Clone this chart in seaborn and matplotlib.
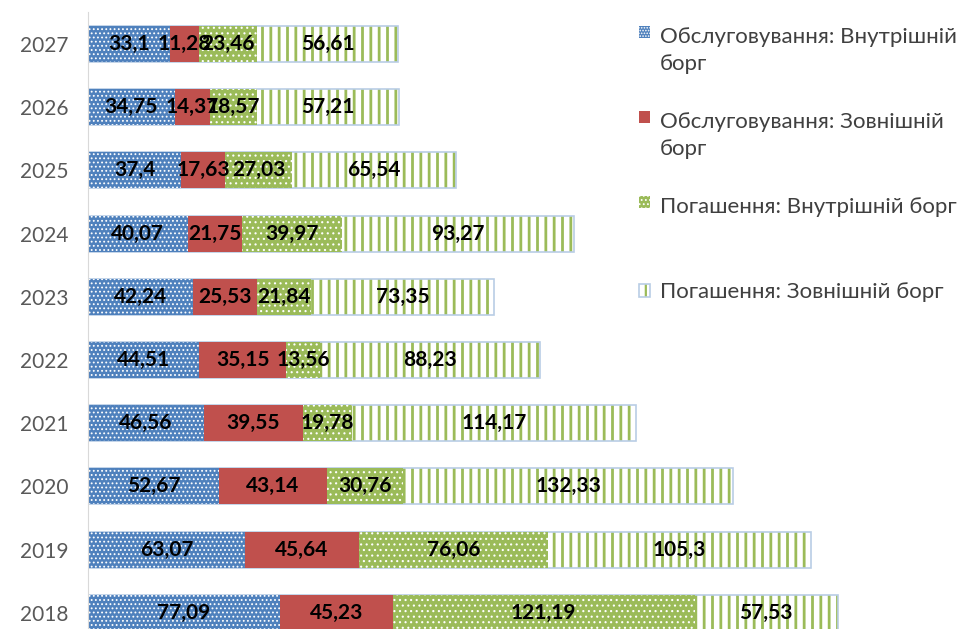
import numpy as np
import matplotlib
matplotlib.use("Agg")
import matplotlib.pyplot as plt
import matplotlib.patches as mpatches
from matplotlib.legend_handler import HandlerPatch, HandlerTuple
import seaborn as sns

# data (2018 .. 2027)
years = ["2018", "2019", "2020", "2021", "2022", "2023", "2024", "2025", "2026", "2027"]
serv_internal = [77.09, 63.07, 52.67, 46.56, 44.51, 42.24, 40.07, 37.4, 34.75, 33.1]
serv_external = [45.23, 45.64, 43.14, 39.55, 35.15, 25.53, 21.75, 17.63, 14.37, 11.28]
repay_internal = [121.19, 76.06, 30.76, 19.78, 13.56, 21.84, 39.97, 27.03, 18.57, 23.46]
repay_external = [57.53, 105.3, 132.33, 114.17, 88.23, 73.35, 93.27, 65.54, 57.21, 56.61]
series_names = ["Обслуговування: Внутрішній\nборг",
                "Обслуговування: Зовнішній\nборг",
                "Погашення: Внутрішній борг\n ",
                "Погашення: Зовнішній борг"]

sns.set_style("white")
plt.rcParams["font.family"] = ["Lato", "DejaVu Sans"]
plt.rcParams["hatch.linewidth"] = 0.8

BLUE = "#4F81BD"
RED = "#C0504D"
GREEN = "#9BBB59"
BORDER = "#B9CDE5"

order = years[::-1]
s1 = np.array(serv_internal)
s2 = np.array(serv_external)
s3 = np.array(repay_internal)
s4 = np.array(repay_external)
c1 = s1
c2 = c1 + s2
c3 = c2 + s3
c4 = c3 + s4


def thick_hatch(patches, lw):
    for p in patches:
        if hasattr(p, "set_hatch_linewidth"):
            p.set_hatch_linewidth(lw)


fig = plt.figure(figsize=(9.58, 6.29), dpi=100)
ax = fig.add_axes([0.0919, -0.0245, 0.832, 1.0048])

w = 0.57
# overlay cumulative bars, longest first
sns.barplot(x=c4, y=years, order=order, orient="y", color="white", saturation=1,
            edgecolor=GREEN, hatch="||", linewidth=0, width=w, ax=ax)
thick_hatch(ax.patches, 2.0)
sns.barplot(x=c4, y=years, order=order, orient="y", fill=False, saturation=1,
            edgecolor=BORDER, linewidth=1.2, width=w, ax=ax)
sns.barplot(x=c3, y=years, order=order, orient="y", color=GREEN, saturation=1,
            edgecolor="white", hatch="...", linewidth=0, width=w, ax=ax)
sns.barplot(x=c2, y=years, order=order, orient="y", color=RED, saturation=1,
            linewidth=0, width=w, ax=ax)
sns.barplot(x=c1, y=years, order=order, orient="y", color=BLUE, saturation=1,
            edgecolor="white", hatch="....", linewidth=0, width=w, ax=ax)

# value labels in segment centres
for vals, ends in [(s1, c1), (s2, c2), (s3, c3), (s4, c4)]:
    for k, yr in enumerate(years):
        pos = order.index(yr)
        ax.text(ends[k] - vals[k] / 2, pos, str(vals[k]).replace(".", ","),
                ha="center", va="center", fontsize=15, fontweight="bold", color="black")

ax.set_xlim(0, 320)
ax.set_xlabel("")
ax.set_ylabel("")
ax.set_xticks([])
ax.tick_params(axis="y", length=0, pad=14, labelsize=15, labelcolor="#595959")
for sp in ["top", "right", "bottom"]:
    ax.spines[sp].set_visible(False)
ax.spines["left"].set_color("#D9D9D9")


class ShiftedPatch(HandlerPatch):
    def __init__(self, shift, **kw):
        super().__init__(**kw)
        self.shift = shift

    def create_artists(self, legend, orig_handle, xdescent, ydescent, width, height, fontsize, trans):
        return super().create_artists(legend, orig_handle, xdescent, ydescent - self.shift,
                                      width, height, fontsize, trans)


h1 = mpatches.Patch(facecolor=BLUE, edgecolor="white", hatch="......", linewidth=0)
h2 = mpatches.Patch(facecolor=RED, linewidth=0)
h3 = mpatches.Patch(facecolor=GREEN, edgecolor="white", hatch="....", linewidth=0)
h4a = mpatches.Patch(facecolor="white", edgecolor=GREEN, hatch="||", linewidth=0)
h4b = mpatches.Patch(fill=False, edgecolor=BORDER, linewidth=1.2)
fs = 16
line_shift = 13.3
leg = fig.legend([h1, h2, h3, (h4a, h4b)], series_names, loc="upper left",
                 bbox_to_anchor=(0.6555, 0.975), frameon=False, fontsize=fs,
                 borderpad=0, handlelength=0.5, handleheight=0.5, handletextpad=0.42,
                 labelspacing=1.72, labelcolor="#404040",
                 handler_map={h1: ShiftedPatch(line_shift), h2: ShiftedPatch(line_shift),
                              h3: ShiftedPatch(line_shift),
                              tuple: HandlerTuple(ndivide=1, pad=0)})
for t in leg.get_texts():
    t.set_linespacing(1.43)
for p in leg.get_patches():
    if p.get_hatch() == "||":
        thick_hatch([p], 1.6)

fig.savefig("out.png", dpi=100)
